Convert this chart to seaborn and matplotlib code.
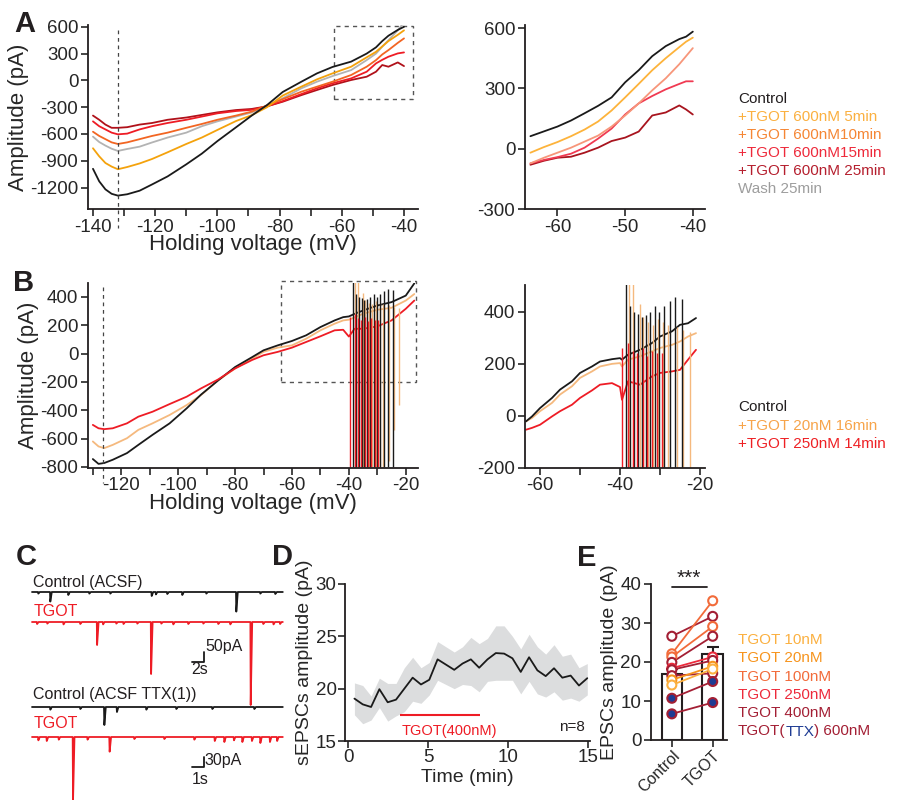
# I-V curves with TGOT, sEPSC time course and paired EPSC amplitudes
import pandas as pd
import seaborn as sns
import matplotlib.pyplot as plt
from matplotlib.patches import Rectangle, ConnectionPatch

# ---------------- data ----------------
# A: ramp I-V, full range
A_V = [-140, -138, -136, -134, -132, -129, -125, -121, -116, -110, -105, -100, -94,
       -89, -84, -79, -73, -68, -63, -57, -52, -49, -47, -45, -42, -40]
A_ctrl = [-990, -1130, -1220, -1270, -1290, -1275, -1235, -1165, -1075, -940, -820, -680, -525,
          -395, -275, -130, -15, 78, 150, 210, 300, 370, 440, 500, 565, 600]
A_5min = [-760, -850, -925, -965, -995, -970, -930, -880, -805, -712, -640, -555, -455,
          -390, -300, -170, -70, 11, 78, 153, 258, 320, 380, 440, 510, 560]
A_10min = [-575, -622, -658, -694, -712, -694, -658, -622, -585, -531, -488, -441, -394,
           -350, -280, -210, -127, -71, -15, 60, 153, 227, 290, 339, 420, 470]
A_15min = [-459, -513, -549, -585, -604, -596, -549, -513, -477, -441, -405, -369, -343,
           -330, -290, -232, -153, -89, -33, 22, 97, 190, 230, 265, 302, 313]
A_25min = [-394, -441, -495, -531, -531, -524, -495, -477, -441, -416, -387, -358, -332,
           -320, -290, -239, -165, -108, -52, 4, 41, 97, 172, 153, 201, 160]
A_wash = [-630, -690, -730, -765, -790, -768, -742, -695, -640, -585, -513, -459, -405,
          -360, -290, -200, -89, -15, 48, 115, 227, 300, 377, 450, 560, 650]
A_mark_V = -132

# A: zoomed window
AI_V = [-64, -62, -60, -58, -56, -54, -52, -50, -48, -46, -44, -42, -41, -40]
AI_ctrl = [62, 86, 110, 140, 176, 213, 255, 330, 390, 460, 510, 545, 557, 582]
AI_5min = [-20, 8, 33, 62, 95, 135, 190, 255, 322, 390, 450, 505, 532, 552]
AI_10min = [-73, -45, -20, 5, 35, 65, 110, 165, 225, 290, 350, 420, 460, 500]
AI_15min = [-73, -56, -42, -25, 5, 50, 100, 170, 225, 262, 295, 322, 335, 335]
AI_25min = [-80, -60, -45, -40, -20, 5, 38, 55, 85, 165, 180, 215, 195, 170]

# B: ramp I-V, full range
B_V = [-130, -128, -126, -123, -118, -114, -109, -103, -97, -92, -86, -80, -74, -70,
       -65, -60, -55, -50, -45, -42, -40, -38, -35, -30, -25, -20, -17]
B_ctrl = [-744, -778, -772, -749, -702, -644, -573, -492, -386, -290, -190, -95, -25, 23,
          58, 89, 129, 187, 234, 257, 262, 280, 304, 339, 363, 409, 495]
B_20nM = [-620, -655, -667, -644, -597, -538, -492, -433, -363, -293, -190, -105, -35, 12,
          42, 58, 105, 164, 211, 234, 239, 255, 281, 309, 323, 374, 420]
B_250nM = [-503, -527, -533, -527, -492, -445, -410, -356, -304, -246, -183, -105, -45, -12,
           12, 42, 82, 122, 164, 168, 120, 175, 175, 192, 234, 316, 374]
B_mark_V = -126.4

# B: zoomed window
BI_V = [-63.5, -62, -60, -57, -55, -52, -50, -47, -45, -42, -40, -39.5, -38, -35,
        -32, -30, -27, -25, -23, -21]
BI_ctrl = [-22, -3, 29, 68, 100, 132, 164, 189, 208, 217, 221, 215, 234, 253,
           279, 304, 324, 349, 355, 375]
BI_20nM = [-22, -9, 17, 49, 81, 113, 145, 170, 189, 199, 202, 189, 215, 228,
           247, 260, 272, 285, 304, 317]
BI_250nM = [-54, -47, -35, -3, 17, 42, 68, 97, 119, 125, 110, 61, 132, 119,
            151, 164, 170, 176, 215, 253]

# B: action currents (voltage, lowest and highest current)
spk_ctrl_V = [-38.5, -37.5, -36.4, -35.4, -34.6, -33.5, -32.5, -31.3, -30.2, -29.0, -27.5, -26.3, -24.6]
spk_ctrl_hi = [510, 420, 400, 390, 380, 385, 400, 420, 400, 420, 440, 455, 450]
spk_ctrl_lo = [-800, -800, -800, -800, -800, -800, -800, -800, -800, -800, -800, -800, -800]
spk_20_V = [-37.7, -36.7, -35.0, -34.2, -32.9, -31.8, -30.4, -29.2, -27.9, -25.8, -24.2, -22.5]
spk_20_hi = [510, 505, 430, 380, 360, 350, 370, 360, 350, 340, 330, 320]
spk_20_lo = [-800, -800, -800, -800, -800, -800, -800, -800, -800, -760, -540, -360]
spk_250_V = [-39.5, -37.9, -36.8, -35.8, -34.2, -33.2, -32.1, -30.8, -29.6]
spk_250_hi = [260, 280, 250, 240, 260, 230, 250, 240, 240]
spk_250_lo = [-800, -800, -800, -800, -800, -800, -800, -800, -800]

# C: example sEPSC traces (event time in s, amplitude in pA)
C1_end = 41.8
C1_ctrl_t = [1.0, 3.0, 6.0, 9.5, 13.0, 19.9, 20.6, 22.5, 25.0, 29.0, 34.0, 38.0, 40.5]
C1_ctrl_a = [8, 48, 15, 8, 8, 20, 12, 10, 15, 8, 98, 8, 10]
C1_tgot_t = [0.8, 2.5, 5.2, 8.0, 10.8, 11.8, 14.0, 15.2, 17.5, 19.8, 21.5, 23.5, 26.0,
             28.5, 31.0, 33.0, 36.4, 38.5, 40.2, 41.3]
C1_tgot_a = [10, 8, 12, 10, 115, 12, 8, 10, 8, 260, 8, 12, 10, 8, 10, 12, 415, 10, 12, 10]
C2_end = 20.9
C2_ctrl_t = [1.5, 4.0, 6.0, 7.05, 9.5, 12.0, 15.0, 18.5]
C2_ctrl_a = [8, 6, 54, 15, 8, 6, 6, 6]
C2_tgot_t = [0.5, 1.2, 2.2, 3.39, 4.6, 6.44, 8.5, 11.0, 13.5, 15.2, 16.0, 16.8, 17.5,
             18.3, 19.0, 19.8, 20.4]
C2_tgot_a = [10, 12, 8, 190, 8, 44, 6, 6, 8, 12, 15, 10, 15, 12, 18, 15, 12]

# D: sEPSC amplitude time course (mean and band)
D_t = [0.4, 0.92, 1.44, 1.96, 2.48, 3.0, 3.52, 4.04, 4.56, 5.08, 5.6, 6.12, 6.64, 7.16, 7.68,
       8.2, 8.72, 9.24, 9.76, 10.28, 10.8, 11.32, 11.84, 12.36, 12.88, 13.4, 13.92, 14.44, 14.96]
D_mean = [19.05, 18.5, 18.25, 19.95, 18.7, 18.95, 20.0, 21.05, 20.4, 20.85, 22.8, 22.3, 21.8, 22.4,
          22.8, 22.0, 22.8, 23.4, 23.35, 22.9, 21.6, 23.0, 21.75, 21.2, 21.95, 21.05, 21.25, 20.3, 21.0]
D_hi = [20.55, 20.3, 19.3, 21.0, 20.5, 20.5, 22.0, 23.0, 22.0, 22.5, 24.5, 24.0, 23.5, 24.0,
        24.9, 24.3, 24.8, 26.0, 26.0, 25.0, 23.8, 25.2, 24.0, 23.3, 24.2, 23.1, 23.3, 22.0, 22.4]
D_lo = [17.5, 16.65, 17.0, 18.2, 16.9, 17.4, 17.8, 18.8, 18.6, 19.4, 20.8, 20.4, 20.0, 20.4,
        20.3, 19.7, 20.7, 20.8, 20.8, 20.8, 19.5, 20.7, 19.5, 19.2, 19.7, 18.9, 19.1, 18.8, 19.4]
D_drug = [3.25, 8.25]
D_drug_y = 17.5

# E: paired EPSC amplitudes
E_cats = ['Control', 'TGOT']
E_mean = [16.8, 22.0]
E_sem = [1.3, 1.9]
E_ctrl = [26.6, 22.1, 21.3, 19.9, 18.4, 18.0, 16.5, 15.4, 14.1, 10.7, 6.7]
E_tgot = [31.7, 35.7, 29.1, 26.6, 21.3, 20.4, 17.1, 18.9, 18.2, 15.0, 9.6]
E_group = ['400', '100', '100', '400', '250', '400', '400', '20', '10', 'TTX', 'TTX']

# ---------------- style ----------------
sns.set_style('ticks')
plt.rcParams['font.family'] = ['Liberation Sans', 'DejaVu Sans']
plt.rcParams['axes.unicode_minus'] = False
plt.rcParams['axes.linewidth'] = 1.3
plt.rcParams['axes.edgecolor'] = '#231f20'
plt.rcParams['xtick.major.size'] = 5
plt.rcParams['ytick.major.size'] = 5
plt.rcParams['xtick.major.width'] = 1.2
plt.rcParams['ytick.major.width'] = 1.2
plt.rcParams['text.color'] = '#231f20'

W, H = 902, 800
fig = plt.figure(figsize=(W / 100, H / 100), dpi=100)


def px_axes(left, top, width, height):
    return fig.add_axes([left / W, 1 - (top + height) / H, width / W, height / H])


def to_long(x, series):
    return pd.concat([pd.DataFrame({'x': x, 'y': v, 'cond': k}) for k, v in series.items()],
                     ignore_index=True)


def event_trace(t_end, ev_t, ev_a, base, rise, decay):
    xs, ys = [0.0], [base]
    for t, a in zip(ev_t, ev_a):
        xs += [t, t + rise, t + decay]
        ys += [base, base - a, base]
    xs.append(t_end)
    ys.append(base)
    return xs, ys


def style_ax(ax, size=13.5, pad=2):
    sns.despine(ax=ax)
    ax.tick_params(labelsize=size, pad=pad)
    ax.set_facecolor('none')


dash = (0, (3, 3))
box_col = '#555555'

# ---------------- A ----------------
colA = {'ctrl': '#1a1a1a', '5': '#f4a20c', '10': '#f26522', '15': '#ee1c25',
        '25': '#b0111a', 'wash': '#b3b3b3'}
axA = px_axes(88, 25, 330, 184)
dfA = to_long(A_V, {'wash': A_wash, '25': A_25min, '15': A_15min, '10': A_10min,
                    '5': A_5min, 'ctrl': A_ctrl})
sns.lineplot(data=dfA, x='x', y='y', hue='cond', palette=colA, estimator=None, sort=False,
             legend=False, lw=1.3, ax=axA)
axA.set_xlim(-141.6, -35.5)
axA.set_ylim(-1440, 620)
axA.set_xticks(list(range(-140, -39, 10)))
axA.set_xticklabels([str(v) if v % 20 == 0 else '' for v in range(-140, -39, 10)])
axA.set_yticks([600, 300, 0, -300, -600, -900, -1200])
style_ax(axA)
axA.set_xlabel('Holding voltage (mV)', fontsize=16, labelpad=-1)
axA.set_ylabel('Amplitude (pA)', fontsize=16, labelpad=1)
axA.plot([A_mark_V, A_mark_V], [560, -1650], ls=dash, color='#444444', lw=0.9, clip_on=False)
axA.add_patch(Rectangle((-62.5, -205), 25.5, 817, fill=False, ls=dash, ec=box_col, lw=1.0))

colAI = {'ctrl': '#1a1a1a', '5': '#fdb33b', '10': '#f7967a', '15': '#f03a52', '25': '#a8141e'}
axAi = px_axes(525, 25, 180, 184)
dfAI = to_long(AI_V, {'25': AI_25min, '15': AI_15min, '10': AI_10min, '5': AI_5min,
                      'ctrl': AI_ctrl})
sns.lineplot(data=dfAI, x='x', y='y', hue='cond', palette=colAI, estimator=None, sort=False,
             legend=False, lw=1.3, ax=axAi)
axAi.set_xlim(-64.8, -38.2)
axAi.set_ylim(-300, 615)
axAi.set_xticks([-60, -50, -40])
axAi.set_yticks([-300, 0, 300, 600])
style_ax(axAi)
axAi.set_xlabel('')
axAi.set_ylabel('')

for xyA, xyB in [((-35, 560), (-0.222, 1.005)), ((-35, -200), (-0.222, 0.092))]:
    fig.add_artist(ConnectionPatch(xyA=xyA, coordsA='data', axesA=axA, xyB=xyB,
                                   coordsB='axes fraction', axesB=axAi, ls=dash,
                                   color=box_col, lw=0.9))

legA = [('Control', '#231f20'), ('+TGOT 600nM 5min', '#fbb040'),
        ('+TGOT 600nM10min', '#f58634'), ('+TGOT 600nM15min', '#ee2a3b'),
        ('+TGOT 600nM 25min', '#b51f2e'), ('Wash 25min', '#9d9d9d')]
for i, (txt, c) in enumerate(legA):
    fig.text(738 / W, 1 - (99 + 18 * i) / H, txt, color=c, fontsize=11, va='center')

# ---------------- B ----------------
colB = {'ctrl': '#1a1a1a', '20': '#f5b97e', '250': '#ee1c25'}
spikes = [('20', spk_20_V, spk_20_lo, spk_20_hi), ('ctrl', spk_ctrl_V, spk_ctrl_lo, spk_ctrl_hi),
          ('250', spk_250_V, spk_250_lo, spk_250_hi)]

axB = px_axes(88, 282.7, 330, 185)
dfB = to_long(B_V, {'20': B_20nM, 'ctrl': B_ctrl, '250': B_250nM})
sns.lineplot(data=dfB, x='x', y='y', hue='cond', palette=colB, estimator=None, sort=False,
             legend=False, lw=1.3, ax=axB)
for k, v, lo, hi in spikes:
    axB.vlines(v, lo, hi, color=colB[k], lw=1.0)
axB.set_xlim(-131.7, -15.7)
axB.set_ylim(-805, 500)
axB.set_xticks(list(range(-130, -19, 10)))
axB.set_xticklabels([str(v) if v % 20 == 0 else '' for v in range(-130, -19, 10)])
axB.set_yticks([400, 200, 0, -200, -400, -600, -800])
style_ax(axB)
axB.set_xlabel('Holding voltage (mV)', fontsize=16, labelpad=-1)
axB.set_ylabel('Amplitude (pA)', fontsize=16, labelpad=1)
axB.plot([B_mark_V, B_mark_V], [470, -915], ls=dash, color='#444444', lw=0.9, clip_on=False)
axB.add_patch(Rectangle((-63.7, -200), 47.2, 715, fill=False, ls=dash, ec=box_col, lw=1.0,
                        clip_on=False))

axBi = px_axes(525, 285, 180, 182.7)
dfBI = to_long(BI_V, {'20': BI_20nM, 'ctrl': BI_ctrl, '250': BI_250nM})
sns.lineplot(data=dfBI, x='x', y='y', hue='cond', palette=colB, estimator=None, sort=False,
             legend=False, lw=1.3, ax=axBi)
for k, v, lo, hi in spikes:
    axBi.vlines(v, lo, hi, color=colB[k], lw=1.0)
axBi.set_xlim(-63.75, -18.75)
axBi.set_ylim(-200, 502)
axBi.set_xticks([-60, -50, -40, -30, -20])
axBi.set_xticklabels(['-60', '', '-40', '', '-20'])
axBi.set_yticks([-200, 0, 200, 400])
style_ax(axBi)
axBi.set_xlabel('')
axBi.set_ylabel('')

for xyA, xyB in [((-14, 479), (-0.222, 1.005)), ((-14, -201), (-0.222, 0.086))]:
    fig.add_artist(ConnectionPatch(xyA=xyA, coordsA='data', axesA=axB, xyB=xyB,
                                   coordsB='axes fraction', axesB=axBi, ls=dash,
                                   color=box_col, lw=0.9))

legB = [('Control', '#231f20'), ('+TGOT 20nM 16min', '#f7a44a'),
        ('+TGOT 250nM 14min', '#ee2024')]
for i, (txt, c) in enumerate(legB):
    fig.text(738 / W, 1 - (407 + 18.6 * i) / H, txt, color=c, fontsize=11, va='center')

# ---------------- C ----------------
red = '#ee1c25'
axC1 = px_axes(30, 570, 260, 145)
x, y = event_trace(C1_end, C1_ctrl_t, C1_ctrl_a, 0, 0.05, 0.3)
sns.lineplot(x=x, y=y, sort=False, estimator=None, color='#1a1a1a', lw=1.3, ax=axC1)
x, y = event_trace(C1_end, C1_tgot_t, C1_tgot_a, -150, 0.05, 0.3)
sns.lineplot(x=x, y=y, sort=False, estimator=None, color=red, lw=1.3, ax=axC1)
axC1.plot([26.7, 28.7, 28.7], [-350, -350, -300], color='#1a1a1a', lw=1.3)
axC1.text(28.9, -275, '50pA', fontsize=11.5, va='center')
axC1.text(26.6, -385, '2s', fontsize=11.5, va='center')
axC1.text(0.2, 50, 'Control (ACSF)', fontsize=11.5, va='center')
axC1.text(0.2, -100, 'TGOT', fontsize=11.5, va='center', color=red)
axC1.set_xlim(-1 / 3, 43)
axC1.set_ylim(-615, 110)
axC1.axis('off')

axC2 = px_axes(30, 685, 260, 115)
x, y = event_trace(C2_end, C2_ctrl_t, C2_ctrl_a, 0, 0.03, 0.15)
sns.lineplot(x=x, y=y, sort=False, estimator=None, color='#1a1a1a', lw=1.3, ax=axC2)
x, y = event_trace(C2_end, C2_tgot_t, C2_tgot_a, -90, 0.03, 0.15)
sns.lineplot(x=x, y=y, sort=False, estimator=None, color=red, lw=1.3, ax=axC2)
axC2.plot([13.3, 14.3, 14.3], [-180, -180, -150], color='#1a1a1a', lw=1.3)
axC2.text(14.4, -159, '30pA', fontsize=11.5, va='center')
axC2.text(13.3, -218, '1s', fontsize=11.5, va='center')
axC2.text(0.1, 36, 'Control (ACSF TTX(1))', fontsize=11.5, va='center')
axC2.text(0.1, -51, 'TGOT', fontsize=11.5, va='center', color=red)
axC2.set_xlim(-1 / 6, 21.5)
axC2.set_ylim(-279, 66)
axC2.axis('off')

# ---------------- D ----------------
axD = px_axes(345, 584, 245, 157)
axD.fill_between(D_t, D_lo, D_hi, color='#dcddde', lw=0)
sns.lineplot(x=D_t, y=D_mean, color='#1a1a1a', lw=1.3, ax=axD)
axD.hlines(D_drug_y, D_drug[0], D_drug[1], color=red, lw=1.5)
axD.text(sum(D_drug) / 2 + 0.6, 16.0, 'TGOT(400nM)', color=red, fontsize=10.5,
         ha='center', va='center')
axD.text(14.8, 16.3, 'n=8', fontsize=11, ha='right', va='center')
axD.set_xlim(-0.19, 15.13)
axD.set_ylim(15, 30)
axD.set_xticks([0, 5, 10, 15])
axD.set_yticks([15, 20, 25, 30])
style_ax(axD, pad=1)
axD.set_xlabel('Time (min)', fontsize=14, labelpad=2)
axD.set_ylabel('sEPSCs amplitude (pA)', fontsize=14, labelpad=2)

# ---------------- E ----------------
colE = {'10': '#fbb040', '20': '#f7941d', '100': '#f26b3a', '250': '#ed2a3b',
        '400': '#a31f34', 'TTX': '#a31f34'}
blue = '#1f3c93'
axE = px_axes(651, 584, 76, 156)
sns.barplot(x=E_cats, y=E_mean, color='white', saturation=1, edgecolor='#231f20',
            linewidth=1.5, width=0.5, errorbar=None, ax=axE, zorder=1)
axE.errorbar([0, 1], E_mean, yerr=[[0, 0], E_sem], fmt='none', ecolor='#231f20',
             elinewidth=1.5, capsize=4, capthick=1.5, zorder=2)
dfE = pd.DataFrame({'pos': [0, 1] * len(E_ctrl),
                    'val': [v for pair in zip(E_ctrl, E_tgot) for v in pair],
                    'id': [i for i in range(len(E_ctrl)) for _ in range(2)]})
sns.lineplot(data=dfE, x='pos', y='val', hue='id',
             palette={i: colE[g] for i, g in enumerate(E_group)},
             estimator=None, sort=False, legend=False, lw=1.3, ax=axE, zorder=3)
for pos, vals in [(0, E_ctrl), (1, E_tgot)]:
    fc = [blue if g == 'TTX' else 'white' for g in E_group]
    ec = [colE[g] for g in E_group]
    axE.scatter([pos] * len(vals), vals, s=42, facecolors=fc, edgecolors=ec,
                linewidths=1.5, zorder=4)
axE.plot([0, 0.85], [39.2, 39.2], color='#231f20', lw=1.3, clip_on=False)
axE.text(0.42, 39.0, '***', fontsize=15, ha='center', va='bottom')
axE.set_xlim(-0.51, 1.35)
axE.set_ylim(0, 40)
axE.set_yticks([0, 10, 20, 30, 40])
style_ax(axE)
axE.set_xticks([0, 1])
axE.set_xticklabels(E_cats, rotation=45, ha='right', va='top', rotation_mode='anchor',
                    fontsize=11.5)
axE.tick_params(axis='x', pad=0.5)
axE.set_ylabel('EPSCs amplitude (pA)', fontsize=14, labelpad=2)
axE.set_xlabel('')

legE = [('TGOT 10nM', colE['10']), ('TGOT 20nM', colE['20']), ('TGOT 100nM', colE['100']),
        ('TGOT 250nM', colE['250']), ('TGOT 400nM', colE['400'])]
for i, (txt, c) in enumerate(legE):
    fig.text(738 / W, 1 - (640 + 18.3 * i) / H, txt, color=c, fontsize=11, va='center')
renderer = fig.canvas.get_renderer()
xcur = 738 / W
ylast = 1 - (640 + 18.3 * 5) / H
for piece, c in [('TGOT(', colE['TTX']), ('TTX', blue), (') 600nM', colE['TTX'])]:
    t = fig.text(xcur, ylast, piece, color=c, fontsize=11, va='center')
    xcur = t.get_window_extent(renderer).x1 / W

# ---------------- panel letters ----------------
for letter, lx, ly in [('A', 14, 24), ('B', 13, 283), ('C', 16, 557), ('D', 272, 557),
                       ('E', 577, 558)]:
    fig.text(lx / W, 1 - ly / H, letter, fontsize=21, fontweight='bold', va='center')

fig.savefig('out.png', dpi=100)
